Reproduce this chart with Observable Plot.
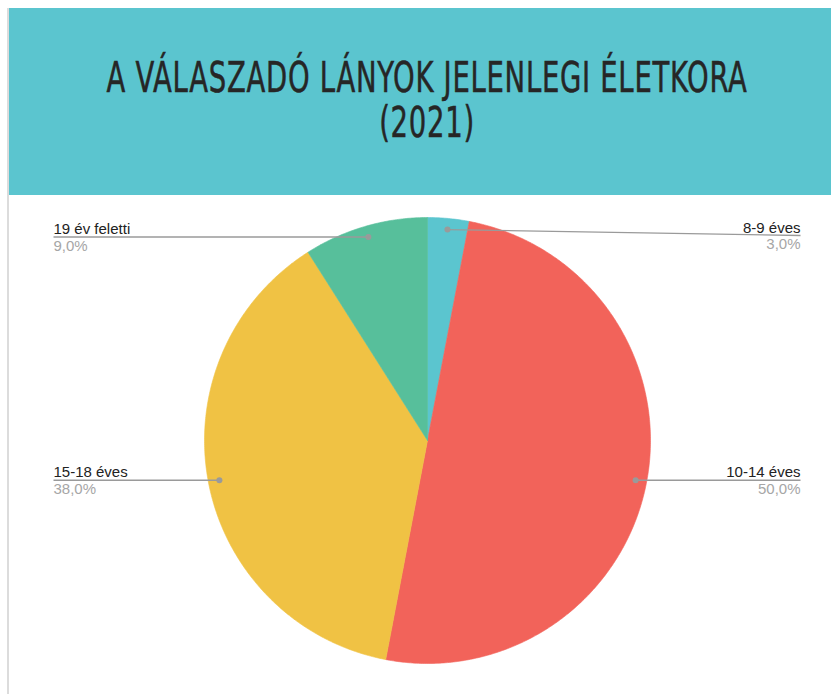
<!DOCTYPE html>
<html>
<head>
<meta charset="utf-8">
<script src="https://cdn.jsdelivr.net/npm/d3@7"></script>
<script src="https://cdn.jsdelivr.net/npm/@observablehq/plot@0.6"></script>
<style>
  html, body { margin: 0; padding: 0; background: #fff; }
  body { width: 831px; height: 694px; position: relative; overflow: hidden; }
  #border { position: absolute; left: 7px; top: 8px; width: 2px; height: 686px; background: #dcdcdc; }
  #header { position: absolute; left: 9px; top: 8px; width: 830px; height: 187px; background: #5BC5CF; }
  .tline { position: absolute; left: 418px; width: 0; height: 34px; font-family: "Liberation Sans Narrow", "DejaVu Sans Condensed", sans-serif; font-size: 42px; color: #262626; line-height: 34px; white-space: nowrap; }
  .tline span { position: absolute; left: 0; top: 0; display: inline-block; transform-origin: center; letter-spacing: 1px; -webkit-text-stroke: 0.5px #262626; }
  #chart { position: absolute; left: 0; top: 195px; }
</style>
</head>
<body>
<div id="border"></div>
<div id="header">
  <div class="tline" id="t1" style="top:53px"><span>A VÁLASZADÓ LÁNYOK JELENLEGI ÉLETKORA</span></div>
  <div class="tline" id="t2" style="top:98px"><span>(2021)</span></div>
</div>
<div id="chart"></div>
<script>
const categories = ["8-9 éves", "10-14 éves", "15-18 éves", "19 év feletti"];
const values = [3.0, 50.0, 38.0, 9.0];
const percentLabels = ["3,0%", "50,0%", "38,0%", "9,0%"];
const colors = ["#5BC5CF", "#F2635A", "#F0C244", "#57BF9B"];

// title width fit
const t1 = document.querySelector("#t1 span");
const w1 = t1.getBoundingClientRect().width;
const sx = 641 / w1;
t1.style.transform = `translateX(-50%) scaleX(${sx})`;
document.querySelector("#t2 span").style.transform = `translateX(-50%) scaleX(${sx})`;

// layout (pixels)
const W = 831, H = 499, cx = 427, cy = 245, R = 223;
const labelLeftPx = 53, labelRightPx = 800, minLabelPx = 40;

const toX = px => (px - cx) / R;
const toY = px => (px - cy) / R;

const data = categories.map((c, i) => ({category: c, value: values[i], pct: percentLabels[i], color: colors[i]}));
const arcs = d3.pie().sort(null).value(d => d.value)(data);

// slice polygons (angle 0 at 12 o'clock, clockwise; y down)
const slicePts = [];
arcs.forEach(a => {
  slicePts.push({category: a.data.category, color: a.data.color, x: 0, y: 0});
  const n = Math.max(2, Math.ceil((a.endAngle - a.startAngle) / (Math.PI / 360)));
  for (let k = 0; k <= n; k++) {
    const t = a.startAngle + (a.endAngle - a.startAngle) * k / n;
    slicePts.push({category: a.data.category, color: a.data.color, x: Math.sin(t), y: -Math.cos(t)});
  }
  slicePts.push({category: a.data.category, color: a.data.color, x: 0, y: 0});
});

const labels = arcs.map(a => {
  const m = (a.startAngle + a.endAngle) / 2;
  const dx = 0.95 * Math.sin(m), dy = -0.95 * Math.cos(m);
  const right = dx > 0;
  const ly = Math.max(dy, toY(minLabelPx));
  return {category: a.data.category, pct: a.data.pct, dx, dy, right,
          lx: right ? toX(labelRightPx) : toX(labelLeftPx), ly};
});
const rightLabels = labels.filter(d => d.right);
const leftLabels = labels.filter(d => !d.right);

const font = "Liberation Sans, Arial, sans-serif";
const textMarks = (arr, anchor) => [
  Plot.text(arr, {x: "lx", y: "ly", text: "category", textAnchor: anchor, lineAnchor: "bottom", dy: -3,
    fontFamily: font, fontSize: 15, fill: "#222"}),
  Plot.text(arr, {x: "lx", y: "ly", text: "pct", textAnchor: anchor, lineAnchor: "top", dy: 3,
    fontFamily: font, fontSize: 15, fill: "#a6a6a6"})
];

const chart = Plot.plot({
  width: W, height: H,
  margin: 0,
  x: {domain: [-1, 1], range: [cx - R, cx + R], axis: null},
  y: {domain: [-1, 1], range: [cy - R, cy + R], axis: null},
  color: {type: "identity"},
  style: {background: "transparent", overflow: "visible"},
  marks: [
    Plot.line(slicePts, {x: "x", y: "y", z: "category", fill: "color", stroke: "color", strokeWidth: 0.6, curve: "linear"}),
    Plot.link(labels, {x1: "dx", y1: "dy", x2: "lx", y2: "ly", stroke: "#9a9a9a", strokeWidth: 1.4}),
    Plot.dot(labels, {x: "dx", y: "dy", r: 3, fill: "#9a9a9a"}),
    ...textMarks(leftLabels, "start"),
    ...textMarks(rightLabels, "end")
  ]
});
document.getElementById("chart").appendChild(chart);
</script>
</body>
</html>
